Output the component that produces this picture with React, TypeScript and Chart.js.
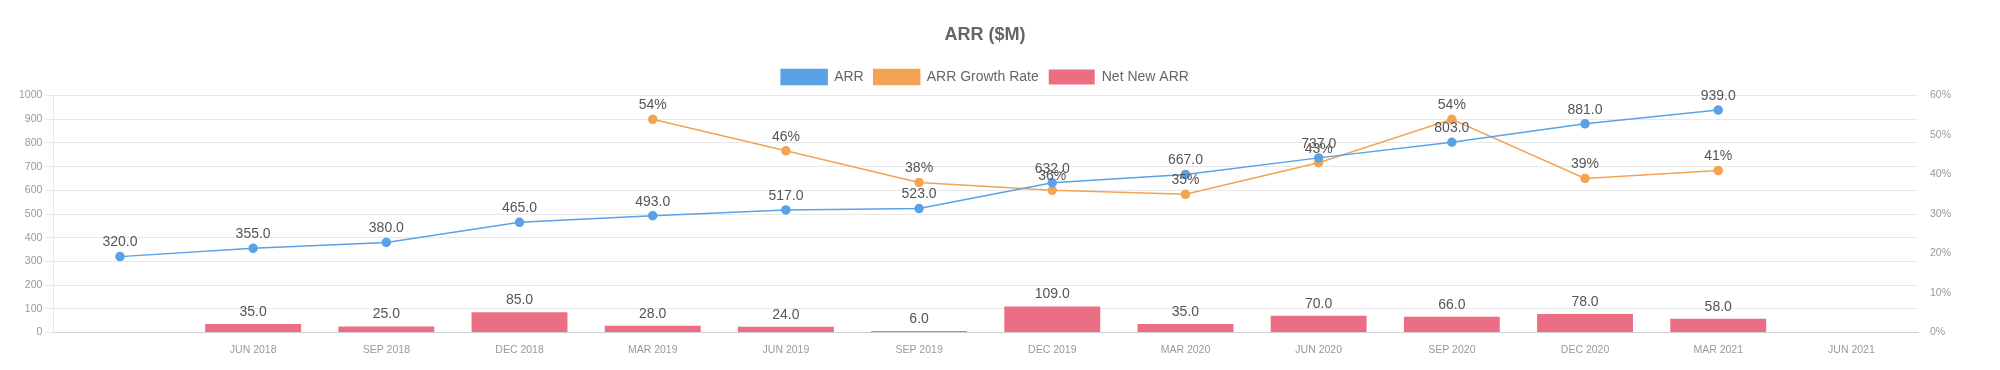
import React, { useEffect, useRef } from "react";
import { Chart, registerables } from "chart.js";

Chart.register(...registerables);

const categories = ["", "JUN 2018", "SEP 2018", "DEC 2018", "MAR 2019", "JUN 2019", "SEP 2019", "DEC 2019", "MAR 2020", "JUN 2020", "SEP 2020", "DEC 2020", "MAR 2021", "JUN 2021"];
const arrValues = [320, 355, 380, 465, 493, 517, 523, 632, 667, 737, 803, 881, 939, null];
const growthRate = [null, null, null, null, 54, 46, 38, 36, 35, 43, 54, 39, 41, null];
const netNewArr = [null, 35, 25, 85, 28, 24, 6, 109, 35, 70, 66, 78, 58, null];

const BLUE = "#5aa2e5";
const ORANGE = "#f2a455";
const PINK = "#ec6e85";
const FONT = '"Liberation Sans", Arial, Helvetica, sans-serif';

const valueLabels = {
  id: "valueLabels",
  afterDatasetsDraw(chart: any) {
    const ctx = chart.ctx;
    chart.data.datasets.forEach((ds: any, i: number) => {
      const meta = chart.getDatasetMeta(i);
      if (meta.hidden) return;
      meta.data.forEach((el: any, j: number) => {
        const v = ds.data[j];
        if (v == null) return;
        const text = ds.yAxisID === "y1" ? `${v}%` : Number(v).toFixed(1);
        const off = meta.type === "bar" ? 12 : 14;
        ctx.save();
        ctx.font = `14px ${FONT}`;
        ctx.fillStyle = "#555";
        ctx.textAlign = "center";
        ctx.textBaseline = "middle";
        ctx.fillText(text, el.x, el.y - off);
        ctx.restore();
      });
    });
  },
};

const legendMargin = {
  id: "legendMargin",
  beforeInit(chart: any) {
    const legend = chart.legend;
    if (!legend) return;
    const fit = legend.fit;
    legend.fit = function () {
      fit.call(this);
      this.height += 1;
    };
  },
};

export default function App() {
  const ref = useRef<HTMLCanvasElement | null>(null);
  useEffect(() => {
    if (!ref.current) return;
    const chart = new Chart(ref.current, {
      type: "bar",
      data: {
        labels: categories,
        datasets: [
          {
            type: "line",
            label: "ARR",
            data: arrValues,
            yAxisID: "y",
            borderColor: BLUE,
            backgroundColor: BLUE,
            pointBackgroundColor: BLUE,
            pointBorderColor: BLUE,
            pointRadius: 4,
            borderWidth: 1.5,
            tension: 0,
            order: 1,
          } as any,
          {
            type: "line",
            label: "ARR Growth Rate",
            data: growthRate,
            yAxisID: "y1",
            borderColor: ORANGE,
            backgroundColor: ORANGE,
            pointBackgroundColor: ORANGE,
            pointBorderColor: ORANGE,
            pointRadius: 4,
            borderWidth: 1.5,
            tension: 0,
            order: 2,
          } as any,
          {
            type: "bar",
            label: "Net New ARR",
            data: netNewArr,
            yAxisID: "y",
            backgroundColor: PINK,
            borderWidth: 0,
            order: 3,
          } as any,
        ],
      },
      options: {
        animation: false,
        responsive: true,
        maintainAspectRatio: false,
        layout: { padding: { left: 8, right: 8, top: 6, bottom: 11 } },
        font: { family: FONT },
        plugins: {
          title: {
            display: true,
            text: "ARR ($M)",
            color: "#666",
            font: { family: FONT, size: 18, weight: "bold" },
            padding: { top: 10, bottom: 14 },
          },
          legend: {
            display: true,
            labels: {
              color: "#666",
              font: { family: FONT, size: 14 },
              boxWidth: 46,
              boxHeight: 15,
              padding: 10,
            },
          },
          tooltip: { enabled: false },
        },
        scales: {
          x: {
            grid: { display: false },
            border: { display: true, color: "#cfcfcf", width: 1 },
            ticks: { color: "#999", font: { family: FONT, size: 10.5 }, maxRotation: 0, autoSkip: false },
          },
          y: {
            position: "left",
            min: 0,
            max: 1000,
            ticks: { stepSize: 100, color: "#999", font: { family: FONT, size: 10.5 }, callback: (v: any) => String(v) },
            grid: { color: "#e8e8e8", lineWidth: 1, tickLength: 8 },
            border: { color: "#e8e8e8" },
          },
          y1: {
            position: "right",
            min: 0,
            max: 60,
            ticks: { stepSize: 10, color: "#999", font: { family: FONT, size: 10.5 }, padding: 12, callback: (v: any) => `${v}%` },
            grid: { display: false, drawTicks: false },
            border: { display: false },
            afterFit: (scale: any) => {
              scale.width = 36;
            },
          },
        },
      } as any,
      plugins: [valueLabels, legendMargin],
    });
    return () => chart.destroy();
  }, []);
  return (
    <div style={{ width: "1954px", height: "362px", position: "relative" }}>
      <canvas ref={ref} />
    </div>
  );
}
